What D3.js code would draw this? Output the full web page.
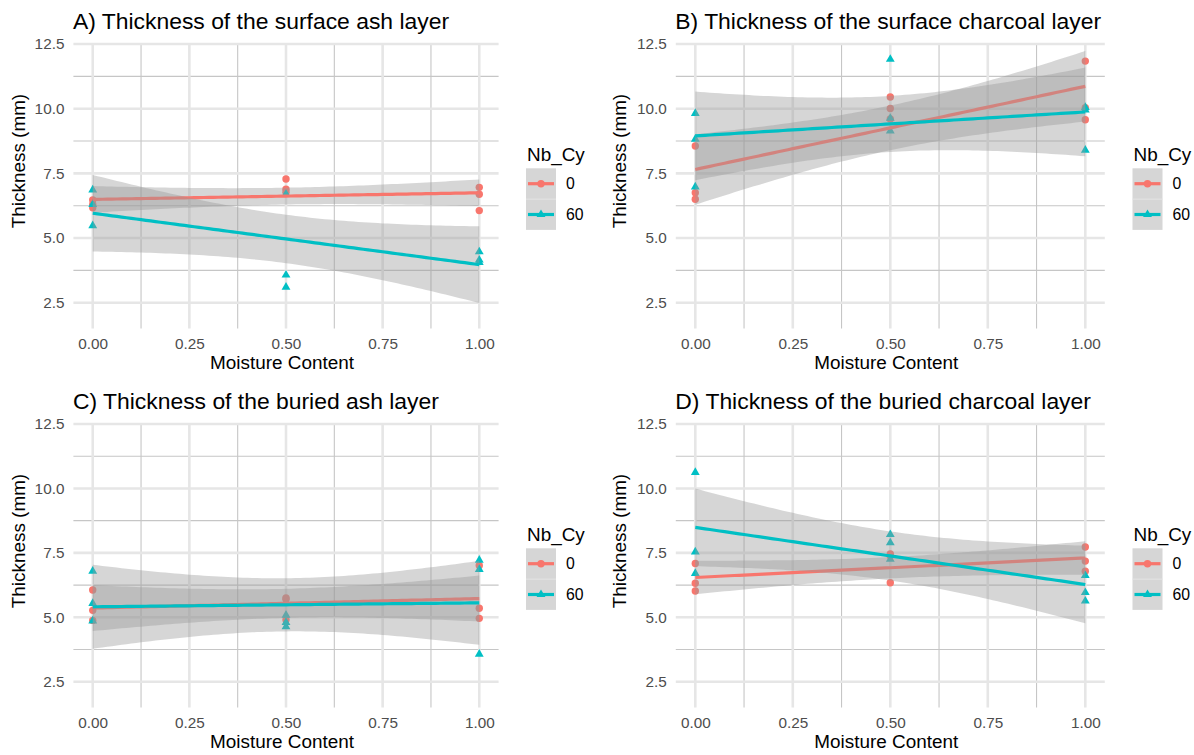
<!DOCTYPE html>
<html>
<head>
<meta charset="utf-8">
<script src="https://cdn.jsdelivr.net/npm/d3@7"></script>
<style>
body { margin: 0; background: #fff; }
svg text { font-family: "Liberation Sans", Arial, Helvetica, sans-serif; }
</style>
</head>
<body>
<svg id="chart" width="1194" height="755"></svg>
<script>
// valeurs : 3 repetitions par niveau d'humidite
var moisture = [0, 0.5, 1];
var groupes = ["0", "60"];
var couleurs = ["#F8766D", "#00BFC4"];

var surfAsh0   = [[6.47, 6.30, 6.17], [7.28, 6.89, 6.77], [6.96, 6.69, 6.06]];
var surfAsh60  = [[6.86, 6.30, 5.48], [6.70, 3.57, 3.10], [4.47, 4.15, 4.06]];
var surfChar0  = [[8.56, 6.75, 6.50], [10.45, 10.01, 9.60], [11.84, 10.04, 9.57]];
var surfChar60 = [[9.82, 8.82, 6.98], [11.91, 9.63, 9.14], [10.05, 9.95, 8.40]];
var burAsh0    = [[6.06, 5.27, 4.88], [5.75, 5.70, 4.90], [7.01, 5.35, 4.96]];
var burAsh60   = [[6.79, 5.54, 4.86], [5.08, 4.80, 4.64], [7.22, 6.86, 3.57]];
var burChar0   = [[7.09, 6.32, 6.02], [7.46, 7.38, 6.34], [7.73, 7.18, 6.79]];
var burChar60  = [[10.62, 7.54, 6.70], [8.21, 7.89, 7.25], [6.62, 5.96, 5.63]];

var titres = [
  "A) Thickness of the surface ash layer",
  "B) Thickness of the surface charcoal layer",
  "C) Thickness of the buried ash layer",
  "D) Thickness of the buried charcoal layer"
];
var xTicks = [0, 0.25, 0.5, 0.75, 1];
var xMinor = [0.125, 0.375, 0.625, 0.875];
var yTicks = [2.5, 5, 7.5, 10, 12.5];
var yMinor = [3.75, 6.25, 8.75, 11.25];

var T975 = 2.364624; // t quantile, df = 9 - 2

// mise en page
var cols = [
  {left: 73.4, right: 498.6, yTitreX: 24.5, legX: 526},
  {left: 675.8, right: 1104.8, yTitreX: 626, legX: 1132.5}
];
var rows = [
  {top: 44, bottom: 328.6},
  {top: 424, bottom: 707.5}
];

var panneaux = [
  {titre: titres[0], d: [surfAsh0, surfAsh60], col: 0, row: 0},
  {titre: titres[1], d: [surfChar0, surfChar60], col: 1, row: 0},
  {titre: titres[2], d: [burAsh0, burAsh60], col: 0, row: 1},
  {titre: titres[3], d: [burChar0, burChar60], col: 1, row: 1}
];

var svg = d3.select("#chart");
svg.append("rect").attr("width", 1194).attr("height", 755).attr("fill", "#fff");

function aplatir(d){
  var ar = [];
  for(var i = 0; i < moisture.length; i++){
    for(var j = 0; j < d[i].length; j++){
      ar.push({x: moisture[i], y: d[i][j]});
    }
  }
  return ar;
}

// regression lineaire + intervalle de confiance 95% (comme geom_smooth(method="lm"))
function ajuste(pts){
  var n = pts.length;
  var xm = d3.mean(pts, function(p){ return p.x; });
  var ym = d3.mean(pts, function(p){ return p.y; });
  var sxx = d3.sum(pts, function(p){ return (p.x - xm) * (p.x - xm); });
  var sxy = d3.sum(pts, function(p){ return (p.x - xm) * (p.y - ym); });
  var b = sxy / sxx;
  var a = ym - b * xm;
  var sse = d3.sum(pts, function(p){ var r = p.y - (a + b * p.x); return r * r; });
  var s = Math.sqrt(sse / (n - 2));
  var ar = [];
  for(var k = 0; k <= 80; k++){
    var xv = k / 80;
    var f = a + b * xv;
    var se = s * Math.sqrt(1 / n + (xv - xm) * (xv - xm) / sxx);
    ar.push({x: xv, y: f, lo: f - T975 * se, hi: f + T975 * se});
  }
  return ar;
}

var triangulo = d3.symbol().type(d3.symbolTriangle).size(34);

function desenhaPainel(p){
  var c = cols[p.col], r = rows[p.row];
  var x = d3.scaleLinear().domain([-0.05, 1.05]).range([c.left, c.right]);
  var y = d3.scaleLinear().domain([1.5, 12.5]).range([r.bottom, r.top]);
  var g = svg.append("g");

  // grille
  g.selectAll(".vmin").data(xMinor).join("line")
    .attr("x1", x).attr("x2", x).attr("y1", r.top).attr("y2", r.bottom)
    .attr("stroke", "#c6c6c6").attr("stroke-width", 1.1);
  g.selectAll(".hmin").data(yMinor).join("line")
    .attr("x1", c.left).attr("x2", c.right).attr("y1", y).attr("y2", y)
    .attr("stroke", "#c6c6c6").attr("stroke-width", 1.1);
  g.selectAll(".vmaj").data(xTicks).join("line")
    .attr("x1", x).attr("x2", x).attr("y1", r.top).attr("y2", r.bottom)
    .attr("stroke", "#e6e6e6").attr("stroke-width", 2.6);
  g.selectAll(".hmaj").data(yTicks).join("line")
    .attr("x1", c.left).attr("x2", c.right).attr("y1", y).attr("y2", y)
    .attr("stroke", "#e6e6e6").attr("stroke-width", 2.6);

  // axes
  var ax = g.append("g").attr("transform", "translate(0," + r.bottom + ")")
    .call(d3.axisBottom(x).tickValues(xTicks).tickFormat(d3.format(".2f")).tickSize(0).tickPadding(9.5));
  var ay = g.append("g").attr("transform", "translate(" + c.left + ",0)")
    .call(d3.axisLeft(y).tickValues(yTicks).tickFormat(d3.format(".1f")).tickSize(0).tickPadding(9));
  [ax, ay].forEach(function(a){
    a.select(".domain").remove();
    a.attr("font-size", null).attr("font-family", null);
    a.selectAll("text").attr("fill", "#4D4D4D").style("font-size", "15.3px");
  });

  // points
  p.d.forEach(function(d, gi){
    var pts = aplatir(d);
    if(gi == 0){
      g.selectAll(".pt0").data(pts).join("circle")
        .attr("cx", function(q){ return x(q.x); })
        .attr("cy", function(q){ return y(q.y); })
        .attr("r", 3.7).attr("fill", couleurs[0]);
    }else{
      g.selectAll(".pt1").data(pts).join("path")
        .attr("transform", function(q){ return "translate(" + x(q.x) + "," + y(q.y) + ")"; })
        .attr("d", triangulo)
        .attr("fill", couleurs[1]);
    }
  });

  // courbes lissees
  var area = d3.area().x(function(q){ return x(q.x); })
    .y0(function(q){ return y(q.lo); }).y1(function(q){ return y(q.hi); });
  var line = d3.line().x(function(q){ return x(q.x); }).y(function(q){ return y(q.y); });
  p.d.forEach(function(d, gi){
    var fit = ajuste(aplatir(d));
    g.append("path").datum(fit).attr("d", area)
      .attr("fill", "#999999").attr("fill-opacity", 0.4);
    g.append("path").datum(fit).attr("d", line)
      .attr("fill", "none").attr("stroke", couleurs[gi]).attr("stroke-width", 3.2);
  });

  // titres
  g.append("text").attr("x", c.left - 0.5).attr("y", r.top - 14.7)
    .style("font-size", "22.9px").attr("fill", "#000").text(p.titre);
  g.append("text")
    .attr("transform", "translate(" + c.yTitreX + "," + (r.top + 117) + ") rotate(-90)")
    .attr("text-anchor", "middle").style("font-size", "18.9px").attr("fill", "#000")
    .text("Thickness (mm)");
  g.append("text").attr("x", (c.left + c.right) / 2 - 4).attr("y", r.bottom + 40.7)
    .attr("text-anchor", "middle").style("font-size", "18.9px").attr("fill", "#000")
    .text("Moisture Content");

  // legende
  var lg = g.append("g");
  lg.append("text").attr("x", c.legX + 1).attr("y", r.top + 116.7)
    .style("font-size", "18.9px").attr("fill", "#000").text("Nb_Cy");
  groupes.forEach(function(nom, gi){
    var ky = r.top + 124.3 + gi * 30.8;
    lg.append("rect").attr("x", c.legX).attr("y", ky).attr("width", 30).attr("height", 30.8)
      .attr("fill", "#999999").attr("fill-opacity", 0.4);
    lg.append("line").attr("x1", c.legX + 2).attr("x2", c.legX + 28)
      .attr("y1", ky + 15.4).attr("y2", ky + 15.4)
      .attr("stroke", couleurs[gi]).attr("stroke-width", 3.2);
    if(gi == 0){
      lg.append("circle").attr("cx", c.legX + 15).attr("cy", ky + 15.4).attr("r", 3.7).attr("fill", couleurs[0]);
    }else{
      lg.append("path").attr("transform", "translate(" + (c.legX + 15) + "," + (ky + 15.4) + ")")
        .attr("d", triangulo).attr("fill", couleurs[1]);
    }
    lg.append("text").attr("x", c.legX + 40).attr("y", ky + 15.4).attr("dy", "0.35em")
      .style("font-size", "15.8px").attr("fill", "#000").text(nom);
  });
  lg.append("line").attr("x1", c.legX).attr("x2", c.legX + 30)
    .attr("y1", r.top + 155.1).attr("y2", r.top + 155.1)
    .attr("stroke", "#e4e4e4").attr("stroke-width", 1);
}

panneaux.forEach(desenhaPainel);
</script>
</body>
</html>
